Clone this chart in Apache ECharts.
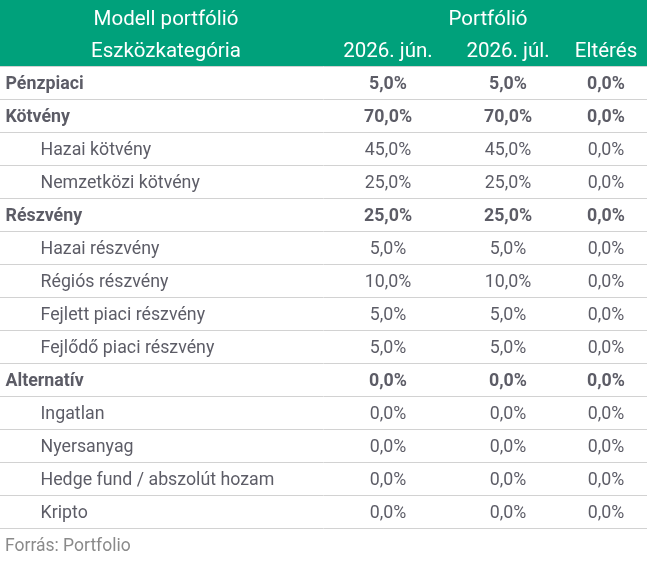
<!DOCTYPE html>
<html><head><meta charset="utf-8">
<script src="https://cdn.jsdelivr.net/npm/echarts@6/dist/echarts.min.js"></script>
<style>html,body{margin:0;padding:0;background:#fff}#c{width:647px;height:562px}</style>
</head><body><div id="c"></div>
<script>
// ---- data ----
const categories = ['Pénzpiaci','Kötvény','Hazai kötvény','Nemzetközi kötvény','Részvény','Hazai részvény','Régiós részvény','Fejlett piaci részvény','Fejlődő piaci részvény','Alternatív','Ingatlan','Nyersanyag','Hedge fund / abszolút hozam','Kripto'];
const levels = [0,0,1,1,0,1,1,1,1,0,1,1,1,1]; // 0 = main category, 1 = subcategory
const jun  = [5,70,45,25,25,5,10,5,5,0,0,0,0,0];
const jul  = [5,70,45,25,25,5,10,5,5,0,0,0,0,0];
const diff = [0,0,0,0,0,0,0,0,0,0,0,0,0,0];
const headerTop = 'Modell portfólió';
const headerGroup = 'Portfólió';
const columnHeaders = ['Eszközkategória','2026. jún.','2026. júl.','Eltérés'];
const sourceText = 'Forrás: Portfolio';

// ---- layout ----
const W = 647, HEAD = 66, ROWS_BOTTOM = 528;
const colLabelMain = 5, colLabelSub = 40;
const colCenters = [388, 508, 606];
const firstColCenter = 166, groupCenter = 488;
const GREEN = '#00a17b', TXT = '#333340', FONT = 'Roboto';
const BODY_FS = 17.8, HEAD_FS = 20.5;

const fmt = v => v.toFixed(1).replace('.', ',') + '%';

function labelSeries() {
  return {
    type: 'scatter', symbolSize: 1, itemStyle: {color: 'rgba(0,0,0,0)'}, silent: true,
    data: categories.map((c, i) => ({
      value: [levels[i] ? colLabelSub : colLabelMain, c],
      label: {fontWeight: levels[i] ? 'normal' : 'bold'}
    })),
    label: {show: true, position: 'right', distance: 0, offset: [0, 2], color: TXT, fontSize: BODY_FS, fontFamily: FONT,
      formatter: p => p.value[1]}
  };
}
function valueSeries(arr, x) {
  return {
    type: 'scatter', symbolSize: 1, itemStyle: {color: 'rgba(0,0,0,0)'}, silent: true,
    data: arr.map((v, i) => ({
      value: [x, categories[i], v],
      label: {fontWeight: levels[i] ? 'normal' : 'bold'}
    })),
    label: {show: true, position: 'inside', offset: [0, 2], color: TXT, fontSize: BODY_FS, fontFamily: FONT,
      formatter: p => fmt(p.value[2])}
  };
}

const chart = echarts.init(document.getElementById('c'));
const headStyle = {fill: '#fff', fontSize: HEAD_FS, fontFamily: FONT, textAlign: 'center', textVerticalAlign: 'middle'};
chart.setOption({
  animation: false,
  grid: {left: 0, right: 0, top: HEAD, bottom: 562 - ROWS_BOTTOM, containLabel: false},
  xAxis: {type: 'value', min: 0, max: W, show: false},
  yAxis: {type: 'category', data: categories, inverse: true, boundaryGap: true,
    axisLine: {show: false}, axisTick: {show: false}, axisLabel: {show: false},
    splitLine: {show: true, lineStyle: {color: '#d2d2d2', width: 1}}},
  series: [labelSeries(), valueSeries(jun, colCenters[0]), valueSeries(jul, colCenters[1]), valueSeries(diff, colCenters[2])],
  graphic: [
    {type: 'rect', shape: {x: 0, y: 0, width: W, height: HEAD}, style: {fill: GREEN}, silent: true},
    {type: 'text', x: firstColCenter, y: 19.5, style: Object.assign({text: headerTop}, headStyle)},
    {type: 'text', x: groupCenter, y: 19.5, style: Object.assign({text: headerGroup}, headStyle)},
    {type: 'text', x: firstColCenter, y: 52, style: Object.assign({text: columnHeaders[0]}, headStyle)},
    {type: 'text', x: colCenters[0], y: 52, style: Object.assign({text: columnHeaders[1]}, headStyle)},
    {type: 'text', x: colCenters[1], y: 52, style: Object.assign({text: columnHeaders[2]}, headStyle)},
    {type: 'text', x: colCenters[2], y: 52, style: Object.assign({text: columnHeaders[3]}, headStyle)},
    {type: 'text', x: 5, y: 547, style: {text: sourceText, fill: '#8a8a8a', fontSize: 17.5, fontFamily: FONT, textVerticalAlign: 'middle'}}
  ]
});
</script></body></html>
